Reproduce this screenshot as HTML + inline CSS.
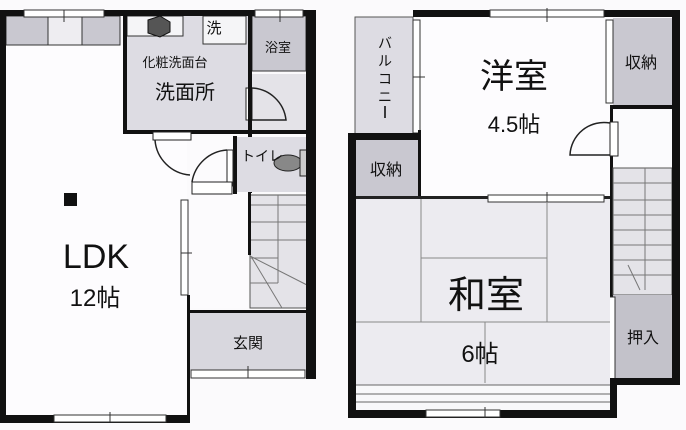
<!DOCTYPE html>
<html><head><meta charset="utf-8"><style>
html,body{margin:0;padding:0;background:#fdfcfd;}
svg{display:block}
text{font-family:"Liberation Sans","Noto Sans CJK JP",sans-serif;fill:#111}
</style></head><body>
<svg width="686" height="430" viewBox="0 0 686 430" xmlns="http://www.w3.org/2000/svg">
<rect width="686" height="430" fill="#fbfafc"/>
<!-- LEFT BLOCK -->
<rect x="6" y="45" width="181" height="370" fill="#fdfcfe"/>
<rect x="6" y="16" width="42" height="29" fill="#c9c8d0" stroke="#333" stroke-width="1"/>
<rect x="48" y="16" width="34" height="29" fill="#eeedf1" stroke="#333" stroke-width="1"/>
<rect x="82" y="16" width="38" height="29" fill="#c9c8d0" stroke="#333" stroke-width="1"/>
<rect x="125" y="15" width="124" height="117" fill="#dddce3"/>
<rect x="127" y="16" width="56" height="20" fill="#f5f5f7" stroke="#333"/>
<rect x="203" y="16" width="43" height="28" fill="#f5f5f7" stroke="#333"/>
<polygon points="148,20 160,16 170,22 170,32 160,37 148,33" fill="#555" stroke="#111"/>
<rect x="252" y="16" width="54" height="55" fill="#c9c8d0" stroke="#333"/>
<rect x="252" y="74" width="54" height="58" fill="#e4e3e8"/>
<path d="M252,88 A36,36 0 0 1 286,120 L252,120" fill="none" stroke="#222" stroke-width="1.5"/>
<rect x="246" y="88" width="6" height="32" fill="#fff" stroke="#222"/>
<rect x="123" y="13" width="4" height="121" fill="#111"/>
<rect x="123" y="130" width="127" height="4" fill="#111"/>
<rect x="248" y="13" width="4" height="180" fill="#111"/>
<rect x="252" y="130" width="56" height="4" fill="#111"/>
<rect x="190" y="136" width="58" height="172" fill="#fcfbfd"/>
<rect x="237" y="137" width="70" height="55" fill="#dddce3"/>
<rect x="233" y="136" width="4" height="58" fill="#111"/>
<ellipse cx="288" cy="163" rx="14" ry="8" fill="#888" stroke="#222"/>
<rect x="300" y="150" width="7" height="26" fill="#ccc" stroke="#222"/>
<rect x="227" y="150" width="6" height="36" fill="#fff" stroke="#222"/>
<path d="M227,150 A38,38 0 0 0 192,182" fill="none" stroke="#222" stroke-width="1.5"/>
<rect x="192" y="182" width="40" height="12" fill="#fff" stroke="#222"/>
<rect x="153" y="132" width="38" height="8" fill="#fff" stroke="#222"/>
<path d="M155,140 A38,38 0 0 0 190,175" fill="none" stroke="#222" stroke-width="1.5"/>
<rect x="250" y="195" width="57" height="113" fill="#e4e3e8" stroke="#555"/>
<g stroke="#777" stroke-width="1">
<line x1="250" y1="205" x2="307" y2="205"/><line x1="250" y1="222" x2="307" y2="222"/>
<line x1="250" y1="240" x2="307" y2="240"/><line x1="250" y1="258" x2="278" y2="258"/>
<line x1="278" y1="195" x2="278" y2="283"/><line x1="250" y1="283" x2="278" y2="283"/>
<line x1="250" y1="256" x2="307" y2="285"/><line x1="252" y1="258" x2="282" y2="308"/>
</g>
<rect x="248" y="193" width="3" height="62" fill="#111"/>
<rect x="190" y="313" width="117" height="57" fill="#d8d7de"/>
<rect x="190" y="310" width="117" height="3" fill="#111"/>
<rect x="191" y="370" width="114" height="8" fill="#fff" stroke="#333"/>
<line x1="248" y1="366" x2="248" y2="378" stroke="#333"/>
<rect x="181" y="200" width="7" height="95" fill="#fff" stroke="#333"/>
<line x1="181" y1="253" x2="192" y2="253" stroke="#333"/>
<rect x="187" y="295" width="3" height="128" fill="#111"/>
<rect x="0" y="10" width="6" height="413" fill="#111"/>
<rect x="0" y="10" width="316" height="6" fill="#111"/>
<rect x="24" y="10" width="80" height="7" fill="#fff" stroke="#333"/>
<line x1="64" y1="10" x2="64" y2="22" stroke="#333"/>
<rect x="255" y="10" width="48" height="7" fill="#fff" stroke="#333"/>
<line x1="280" y1="10" x2="280" y2="22" stroke="#333"/>
<rect x="306" y="10" width="10" height="369" fill="#111"/>
<rect x="0" y="415" width="190" height="8" fill="#111"/>
<rect x="54" y="415" width="112" height="7" fill="#fff" stroke="#333"/>
<line x1="110" y1="412" x2="110" y2="422" stroke="#333"/>
<rect x="64" y="193" width="13" height="13" fill="#111"/>
<text x="96" y="268" font-size="34" text-anchor="middle">LDK</text>
<text x="95" y="306" font-size="24" text-anchor="middle">12帖</text>
<text x="175" y="67" font-size="13" text-anchor="middle">化粧洗面台</text>
<text x="185" y="99" font-size="20" text-anchor="middle">洗面所</text>
<text x="214" y="33" font-size="15" text-anchor="middle">洗</text>
<text x="278" y="52" font-size="13" text-anchor="middle">浴室</text>
<text x="262" y="161" font-size="14" text-anchor="middle">トイレ</text>
<text x="248" y="348" font-size="15" text-anchor="middle">玄関</text>

<!-- RIGHT BLOCK -->
<rect x="355" y="17" width="58" height="118" fill="#dddce3" stroke="#555"/>
<rect x="356" y="140" width="62" height="58" fill="#c9c8d0"/>
<rect x="418" y="17" width="194" height="181" fill="#fdfcfe"/>
<rect x="413" y="20" width="7" height="113" fill="#fff" stroke="#333"/>
<line x1="413" y1="77" x2="425" y2="77" stroke="#333"/>
<rect x="418" y="130" width="3" height="70" fill="#111"/>
<rect x="348" y="133" width="70" height="7" fill="#111"/>
<rect x="613" y="18" width="59" height="87" fill="#c9c8d0"/>
<rect x="606" y="20" width="7" height="83" fill="#fff" stroke="#333"/>
<rect x="613" y="105" width="59" height="4" fill="#111"/>
<rect x="610" y="105" width="3" height="280" fill="#111"/>
<rect x="614" y="110" width="58" height="56" fill="#fbfbfd"/>
<path d="M610,123 A34,34 0 0 0 570,155 L610,155" fill="none" stroke="#222" stroke-width="1.5"/>
<rect x="610" y="122" width="8" height="34" fill="#fff" stroke="#222"/>
<rect x="613" y="168" width="59" height="127" fill="#e4e3e8" stroke="#555"/>
<g stroke="#777"><line x1="613" y1="183" x2="672" y2="183"/><line x1="613" y1="200" x2="672" y2="200"/><line x1="613" y1="215" x2="672" y2="215"/><line x1="613" y1="230" x2="672" y2="230"/><line x1="613" y1="245" x2="672" y2="245"/><line x1="613" y1="260" x2="672" y2="260"/><line x1="613" y1="275" x2="672" y2="275"/><line x1="645" y1="168" x2="645" y2="290"/><line x1="628" y1="265" x2="640" y2="290"/></g>
<rect x="613" y="295" width="59" height="85" fill="#c3c2ca"/>
<rect x="608" y="297" width="7" height="82" fill="#fff" stroke="#333"/>
<rect x="356" y="198" width="254" height="187" fill="#ecebf0"/>
<rect x="356" y="196" width="254" height="3" fill="#222"/>
<rect x="488" y="195" width="116" height="7" fill="#fff" stroke="#333"/>
<line x1="547" y1="192" x2="547" y2="205" stroke="#333"/>
<g stroke="#888" stroke-width="1" fill="none">
<line x1="421" y1="199" x2="421" y2="322"/><line x1="547" y1="202" x2="547" y2="322"/>
<line x1="421" y1="258" x2="547" y2="258"/><line x1="356" y1="322" x2="610" y2="322"/>
<line x1="485" y1="322" x2="485" y2="383"/>
</g>
<rect x="356" y="385" width="254" height="25" fill="#f8f8fa"/>
<g stroke="#666"><line x1="356" y1="385" x2="610" y2="385"/><line x1="356" y1="394" x2="610" y2="394"/><line x1="356" y1="402" x2="610" y2="402"/></g>
<rect x="348" y="133" width="8" height="285" fill="#111"/>
<rect x="413" y="10" width="267" height="7" fill="#111"/>
<rect x="490" y="10" width="114" height="7" fill="#fff" stroke="#333"/>
<line x1="547" y1="8" x2="547" y2="22" stroke="#333"/>
<rect x="672" y="10" width="8" height="375" fill="#111"/>
<rect x="610" y="378" width="70" height="7" fill="#111"/>
<rect x="610" y="380" width="7" height="38" fill="#111"/>
<rect x="348" y="410" width="269" height="8" fill="#111"/>
<rect x="426" y="410" width="74" height="7" fill="#fff" stroke="#333"/>
<line x1="485" y1="407" x2="485" y2="418" stroke="#333"/>
<text x="514" y="88" font-size="34" text-anchor="middle">洋室</text>
<text x="514" y="132" font-size="22" text-anchor="middle">4.5帖</text>
<text x="486" y="308" font-size="38" text-anchor="middle">和室</text>
<text x="480" y="362" font-size="24" text-anchor="middle">6帖</text>
<text x="641" y="68" font-size="16" text-anchor="middle">収納</text>
<text x="386" y="175" font-size="16" text-anchor="middle">収納</text>
<text x="643" y="343" font-size="16" text-anchor="middle">押入</text>
<text x="385" y="48" font-size="14" text-anchor="middle">バ</text>
<text x="385" y="66" font-size="14" text-anchor="middle">ル</text>
<text x="385" y="84" font-size="14" text-anchor="middle">コ</text>
<text x="385" y="102" font-size="14" text-anchor="middle">ニ</text>
<line x1="385" y1="106" x2="385" y2="118" stroke="#111" stroke-width="1.6"/>
</svg>
</body></html>
